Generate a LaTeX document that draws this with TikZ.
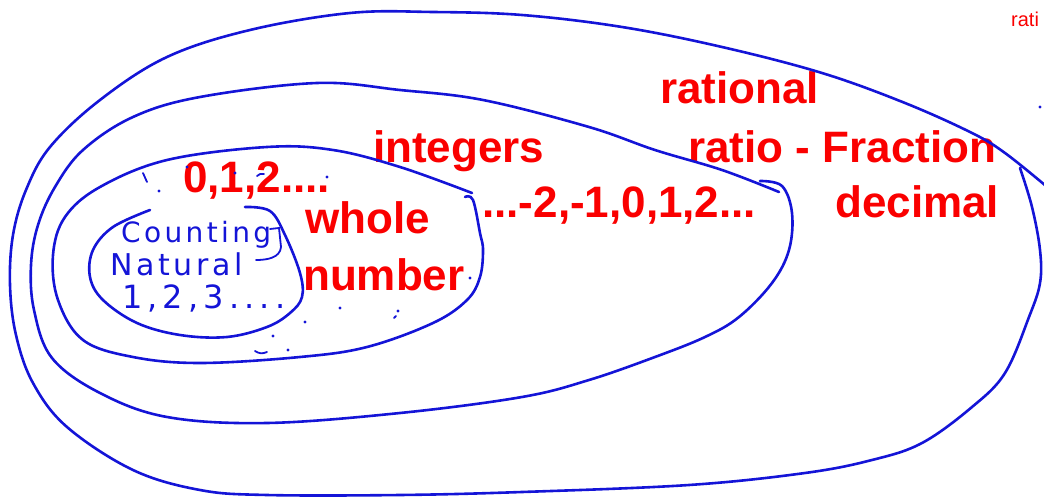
\documentclass[tikz,border=0pt]{standalone}
\usepackage{fontspec}
\setmainfont{Liberation Sans}
\newfontfamily\handfont[LetterSpace=12]{DejaVu Sans}
\newfontfamily\handwide[LetterSpace=16]{DejaVu Sans}
\usepackage{tikz}

\definecolor{penblue}{RGB}{20,20,215}
\definecolor{penred}{RGB}{250,0,0}

\begin{document}
\begin{tikzpicture}[x=1pt, y=-1pt,
		set/.style={penblue, line width=2.6pt, line join=round, line cap=round},
		pen/.style={penblue, line width=1.8pt, line cap=round},
		lbl/.style={penred, inner sep=0pt, anchor=base west, font=\bfseries\fontsize{44}{48}\selectfont},
		hand/.style={penblue, inner sep=0pt, anchor=base west},
		speck/.style={penblue, fill, draw=none}]
			\useasboundingbox (0,0) rectangle (1044,500);
			
			\node[lbl] (rat) at (660,104) {rational};
			\node[lbl] (ratfrac) at (688,162) {ratio - Fraction};
			\node[lbl] (dec) at (835,217) {decimal};
			\node[lbl] (ints) at (373,163) {integers};
			\node[lbl] (intvals) at (482,217) {...-2,-1,0,1,2...};
			\node[lbl] (wholevals) at (183,192) {0,1,2....};
			\node[lbl] (whole) at (305,233) {whole};
			\node[lbl] (number) at (303,290) {number};
			\node[lbl, font=\fontsize{20}{22}\selectfont] (ratcut) at (1011,27) {rati};
			
			\node[hand, font=\handfont\fontsize{28}{30}\selectfont] (counting) at (121,242) {Counting};
			\node[hand, font=\handfont\fontsize{30}{32}\selectfont] (natural) at (110,275) {Natural};
			\node[hand, font=\handwide\fontsize{32}{34}\selectfont] (natvals) at (122,308) {1,2,3....};
			
			\draw[set] plot[smooth, tension=0.6] coordinates {(1020,168) (1032,207) (1040,250) (1040,283) (1029,317) (1005,373) (972,407) (922,443) (872,460) (805,473) (689,485) (522,492) (400,495) (267,495) (200,490) (133,470) (67,427) (33,383) (16,335) (10,285) (13,235) (26,190) (50,147) (100,100) (167,57) (250,30) (350,13) (433,12) (522,15) (622,27) (722,47) (822,73) (905,103) (972,133) (1005,153) (1046,186)};
			\draw[set] plot[smooth, tension=0.6] coordinates {(760,181) (782,186) (792,213) (789,250) (772,283) (739,317) (705,337) (655,357) (589,380) (522,397) (400,413) (267,423) (167,417) (100,393) (52,358) (34,310) (31,265) (38,225) (55,187) (83,150) (133,117) (200,97) (317,83) (400,90) (483,100) (589,127) (655,150) (722,170) (779,192)};
			\draw[set] plot[smooth, tension=0.6] coordinates {(465,197) (473,200) (480,233) (483,250) (480,277) (467,300) (433,323) (367,347) (300,357) (200,363) (133,357) (83,340) (58,300) (53,255) (65,217) (100,187) (167,160) (267,147) (333,150) (400,167) (472,193)};
			\draw[set] plot[smooth, tension=0.6] coordinates {(245,207) (270,211) (285,235) (300,273) (302,297) (290,313) (267,327) (227,337) (180,335) (137,323) (103,300) (90,277) (93,250) (113,227) (150,210)};
			\draw[pen] (270,229) -- (279,228) -- (281,247) to[out=-95, in=0] (256,260);
			
			\draw[pen] (143,173) -- (147,182);
			\draw[pen] (257,176) to[bend left] (264,174);
			\draw[pen] (394,318) -- (396,316);
			\draw[pen] (255,351) to[bend right] (267,352);
			\foreach \px/\py in {159/191, 187/167, 235/173, 327/177, 470/278, 340/308, 398/311, 305/322, 273/336, 288/350, 1040/107}
				\fill[speck] (\px,\py) circle (1.6);
		\end{tikzpicture}
\end{document}
